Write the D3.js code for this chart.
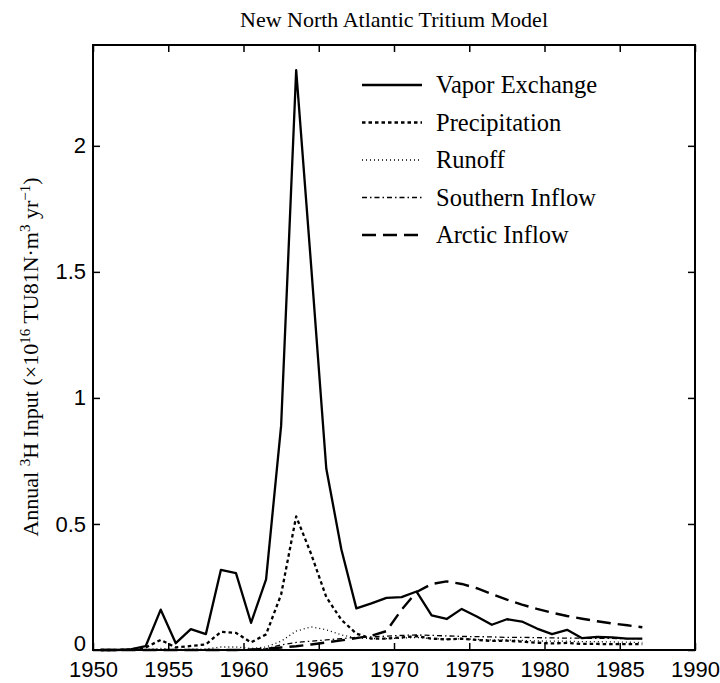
<!DOCTYPE html>
<html>
<head>
<meta charset="utf-8">
<script src="https://cdn.jsdelivr.net/npm/d3@7"></script>
<style>
  body { margin: 0; background: #fff; }
  svg { display: block; font-family: "Liberation Serif", "Times New Roman", serif; }
</style>
</head>
<body>
<div id="chart"></div>
<script>
// years are mid-year points
const years = [1950.5, 1951.5, 1952.5, 1953.5, 1954.5, 1955.5, 1956.5, 1957.5, 1958.5, 1959.5,
  1960.5, 1961.5, 1962.5, 1963.5, 1964.5, 1965.5, 1966.5, 1967.5, 1968.5, 1969.5,
  1970.5, 1971.5, 1972.5, 1973.5, 1974.5, 1975.5, 1976.5, 1977.5, 1978.5, 1979.5,
  1980.5, 1981.5, 1982.5, 1983.5, 1984.5, 1985.5, 1986.5];

const vapor = [0, 0, 0.002, 0.015, 0.16, 0.027, 0.083, 0.063, 0.318, 0.305,
  0.108, 0.28, 0.89, 2.3, 1.52, 0.72, 0.40, 0.165, 0.185, 0.207,
  0.21, 0.232, 0.137, 0.123, 0.163, 0.133, 0.1, 0.122, 0.113, 0.085,
  0.063, 0.08, 0.047, 0.052, 0.05, 0.045, 0.045];

const precip = [0, 0, 0.002, 0.01, 0.04, 0.01, 0.016, 0.022, 0.072, 0.068,
  0.03, 0.062, 0.22, 0.53, 0.38, 0.21, 0.12, 0.065, 0.045, 0.045,
  0.05, 0.055, 0.045, 0.042, 0.045, 0.04, 0.036, 0.037, 0.033, 0.029,
  0.026, 0.028, 0.024, 0.024, 0.023, 0.023, 0.023];

const runoff = [0, 0, 0, 0.002, 0.006, 0.002, 0.003, 0.004, 0.012, 0.012,
  0.006, 0.012, 0.035, 0.075, 0.092, 0.08, 0.06, 0.048, 0.045, 0.045,
  0.047, 0.05, 0.045, 0.043, 0.044, 0.042, 0.04, 0.04, 0.038, 0.036,
  0.035, 0.035, 0.033, 0.033, 0.032, 0.031, 0.03];

const southern = [0, 0, 0, 0, 0, 0, 0, 0, 0, 0,
  0, 0.005, 0.02, 0.03, 0.035, 0.04, 0.045, 0.05, 0.052, 0.055,
  0.058, 0.06, 0.058, 0.056, 0.054, 0.053, 0.052, 0.05, 0.05, 0.049,
  0.048, 0.047, 0.047, 0.046, 0.046, 0.045, 0.045];

const arctic = [0, 0, 0, 0, 0, 0, 0, 0, 0, 0,
  0.002, 0.005, 0.01, 0.015, 0.022, 0.03, 0.038, 0.047, 0.057, 0.075,
  0.16, 0.23, 0.262, 0.272, 0.262, 0.245, 0.222, 0.2, 0.18, 0.163,
  0.148, 0.135, 0.124, 0.114, 0.105, 0.098, 0.09];

const xTicks = [1950, 1955, 1960, 1965, 1970, 1975, 1980, 1985, 1990];
const yTicks = [0, 0.5, 1, 1.5, 2];

const seriesNames = ["Vapor Exchange", "Precipitation", "Runoff", "Southern Inflow", "Arctic Inflow"];
const seriesData = [vapor, precip, runoff, southern, arctic];

const styles = [
  { dash: null, w: 2.3 },
  { dash: "3.5,3", w: 2.3 },
  { dash: "1,3", w: 1.3 },
  { dash: "5,3,1.5,3", w: 1.3 },
  { dash: "14,7", w: 2.4 }
];

const W = 720, H = 683;
const margin = { top: 45, right: 25, bottom: 33, left: 93 };
const width = W - margin.left - margin.right,
  height = H - margin.top - margin.bottom;

const svg = d3.select("#chart")
  .append("svg")
  .attr("width", W)
  .attr("height", H);

svg.append("rect").attr("width", W).attr("height", H).attr("fill", "#fff");

const g = svg.append("g")
  .attr("transform", "translate(" + margin.left + "," + margin.top + ")");

const x = d3.scaleLinear().domain([1950, 1990]).range([0, width]);
const y = d3.scaleLinear().domain([0, 2.4]).range([height, 0]);

// axes, ticks pointing inward
const tk = 7;
g.append("g")
  .attr("transform", "translate(0," + height + ")")
  .call(d3.axisBottom(x).tickValues(xTicks).tickFormat(d3.format("d")).tickSize(-tk).tickPadding(11))
  .call(a => a.select(".domain").remove())
  .call(a => a.selectAll("text").attr("font-size", 22).attr("font-family", null).attr("fill", "#000"));

g.append("g")
  .call(d3.axisTop(x).tickValues(xTicks).tickFormat("").tickSize(-tk))
  .call(a => a.select(".domain").remove());

g.append("g")
  .call(d3.axisLeft(y).tickValues(yTicks).tickFormat(d => d).tickSize(-tk).tickPadding(7))
  .call(a => a.select(".domain").remove())
  .call(a => a.selectAll("text").attr("font-size", 22).attr("font-family", null).attr("fill", "#000"))
  // the "0" sits a bit higher so it clears "1950"
  .call(a => a.selectAll(".tick").filter(d => d === 0).select("text").attr("dy", "0em"));

g.append("g")
  .attr("transform", "translate(" + width + ",0)")
  .call(d3.axisRight(y).tickValues(yTicks).tickFormat("").tickSize(-tk))
  .call(a => a.select(".domain").remove());

g.selectAll(".tick line").attr("stroke", "#000").attr("stroke-width", 1.5);

g.append("rect")
  .attr("width", width)
  .attr("height", height)
  .attr("fill", "none")
  .attr("stroke", "#000")
  .attr("stroke-width", 2);

// lines
const line = d3.line()
  .x((d, i) => x(years[i]))
  .y(d => y(d));

seriesData.forEach((data, k) => {
  g.append("path")
    .datum(data)
    .attr("fill", "none")
    .attr("stroke", "#000")
    .attr("stroke-width", styles[k].w)
    .attr("stroke-dasharray", styles[k].dash)
    .attr("stroke-linejoin", "round")
    .attr("d", line);
});

// legend
const legend = svg.append("g").attr("transform", "translate(362,85)");
seriesNames.forEach((name, k) => {
  const row = legend.append("g").attr("transform", "translate(0," + (k * 37.5) + ")");
  row.append("line")
    .attr("x1", 0).attr("x2", 60)
    .attr("stroke", "#000")
    .attr("stroke-width", styles[k].w)
    .attr("stroke-dasharray", styles[k].dash);
  row.append("text")
    .attr("x", 74)
    .attr("y", 8)
    .attr("font-size", 24.5)
    .text(name);
});

// title
svg.append("text")
  .attr("x", margin.left + width / 2)
  .attr("y", 27)
  .attr("text-anchor", "middle")
  .attr("font-size", 22)
  .text("New North Atlantic Tritium Model");

// y label
const yl = svg.append("text")
  .attr("transform", "translate(38,357) rotate(-90)")
  .attr("text-anchor", "middle")
  .attr("font-size", 22);
yl.append("tspan").text("Annual ");
yl.append("tspan").attr("baseline-shift", "super").attr("font-size", 15).text("3");
yl.append("tspan").text("H Input (\u00d710");
yl.append("tspan").attr("baseline-shift", "super").attr("font-size", 15).text("16");
yl.append("tspan").text(" TU81N\u00b7m");
yl.append("tspan").attr("baseline-shift", "super").attr("font-size", 15).text("3");
yl.append("tspan").text(" yr");
yl.append("tspan").attr("baseline-shift", "super").attr("font-size", 15).text("\u22121");
yl.append("tspan").text(")");
</script>
</body>
</html>
